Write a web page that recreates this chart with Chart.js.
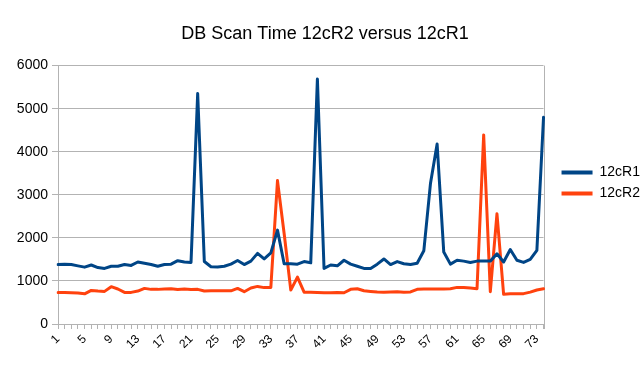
<!DOCTYPE html>
<html>
<head>
<meta charset="utf-8">
<script src="https://cdn.jsdelivr.net/npm/chart.js@4.4.1/dist/chart.umd.min.js"></script>
<style>
  body{margin:0;background:#fff;}
  #scan_chart{display:block;}
</style>
</head>
<body>
<canvas id="scan_chart" width="640" height="366"></canvas>
<script>
// run number 1..74
var run_ids = [];
for(let i=1;i<=74;i++){ run_ids.push(String(i)); }

var scan_12cR1 = [
    1380,1390,1380,1350,1320,1370,1310,1290,1340,1340,
    1380,1360,1440,1410,1380,1340,1380,1390,1470,1440,
    1430,5350,1450,1330,1325,1340,1390,1475,1380,1460,
    1640,1510,1650,2180,1400,1400,1390,1450,1420,5690,
    1290,1370,1350,1480,1390,1340,1290,1290,1390,1510,
    1380,1450,1400,1380,1410,1700,3260,4180,1670,1390,
    1480,1460,1430,1460,1460,1460,1630,1440,1730,1480,
    1430,1500,1710,4800
];
var scan_12cR2 = [
    730,730,727,720,700,780,765,757,866,812,
    734,734,765,827,804,804,812,820,800,810,
    800,805,765,770,770,770,770,827,750,835,
    873,845,850,3330,2100,787,1090,740,735,730,
    727,727,730,725,805,818,772,757,745,740,
    745,750,740,745,805,815,815,815,812,820,
    850,850,835,820,4390,750,2560,690,705,705,
    705,740,790,820
];
var y_ticks = [0,1000,2000,3000,4000,5000,6000];

const FONT = "'Liberation Sans', Arial, sans-serif";
const GRID = '#b3b3b3';

// right edge line of the plot frame
const frame_plugin = {
    id: 'frame',
    beforeDatasetsDraw(chart){
        const a = chart.chartArea, c = chart.ctx;
        c.save();
        c.strokeStyle = GRID;
        c.lineWidth = 1;
        c.beginPath();
        c.moveTo(Math.round(a.right)+0.5, a.top);
        c.lineTo(Math.round(a.right)+0.5, a.bottom+5);
        c.stroke();
        c.restore();
    }
};

new Chart("scan_chart", {
    type: "line",
    data: {
        labels: run_ids,
        datasets: [
            {label:"12cR1", data:scan_12cR1, borderColor:'#004586', backgroundColor:'#004586'},
            {label:"12cR2", data:scan_12cR2, borderColor:'#ff420e', backgroundColor:'#ff420e'},
        ],
    },
    options: {
        responsive: false,
        animation: false,
        devicePixelRatio: 1,
        layout: {padding: {left:0, right:-10, top:0, bottom:0}},
        elements: {
            line: {borderWidth:3, tension:0, borderJoinStyle:'round', borderCapStyle:'round'},
            point: {radius:0},
        },
        scales: {
            x: {
                grid: {drawOnChartArea:false, drawTicks:true, tickLength:5, color:GRID},
                border: {color:GRID},
                ticks: {
                    autoSkip:false, maxRotation:45, minRotation:45, padding:3,
                    color:'#000', font:{family:FONT, size:12},
                    callback: function(v, idx){ return idx%4===0 ? this.getLabelForValue(v) : ''; },
                },
                afterFit(s){ s.height = 42; },
            },
            y: {
                min:0, max:6000,
                afterBuildTicks(s){ s.ticks = y_ticks.map(v => ({value:v})); },
                grid: {color:GRID, tickLength:6},
                border: {color:GRID},
                ticks: {color:'#000', padding:4, font:{family:FONT, size:14}, callback: v => String(v)},
                afterFit(s){ s.width = 58; },
            },
            y2: {
                position:'right', display:true,
                grid: {display:false}, border: {display:false},
                ticks: {display:false},
                afterFit(s){ s.width = 11; },
            },
        },
        plugins: {
            title: {
                display:true, text:"DB Scan Time 12cR2 versus 12cR1",
                color:'#000', font:{family:FONT, size:18, weight:'normal'},
                padding:{top:23, bottom:21},
            },
            legend: {
                position:'right',
                labels: {
                    boxWidth:31, boxHeight:4, padding:7, color:'#000',
                    font:{family:FONT, size:14},
                    generateLabels(chart){
                        return chart.data.datasets.map((ds,i) => ({
                            text: ds.label, fillStyle: ds.borderColor, strokeStyle: ds.borderColor,
                            lineWidth: 0, fontColor:'#000', datasetIndex:i, hidden:false,
                        }));
                    },
                },
            },
            tooltip: {enabled:false},
        },
    },
    plugins: [frame_plugin],
});
</script>
</body>
</html>
